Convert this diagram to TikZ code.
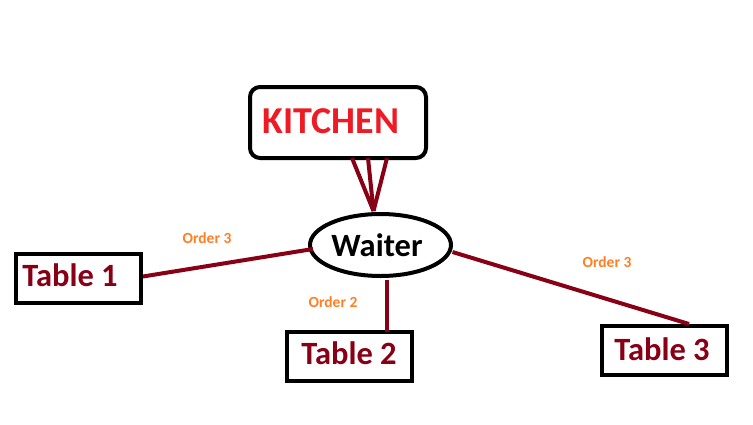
\documentclass[tikz,border=0pt]{standalone}
\usepackage{fontspec}
\setmainfont{Carlito}
\usetikzlibrary{shapes.geometric,calc}
\definecolor{kred}{HTML}{ED1C24}
\definecolor{dred}{HTML}{880015}
\definecolor{ora}{HTML}{FF7F27}
\begin{document}
\begin{tikzpicture}[x=1pt,y=-1pt,
  box/.style={draw=black,line width=4pt,inner sep=0pt},
  tbl/.style={box,minimum width=125pt,minimum height=49pt,text=dred,font=\fontsize{32.5}{33}\selectfont\bfseries},
  link/.style={draw=dred,line width=4pt},
  ord/.style={text=ora,font=\fontsize{15.5}{16}\selectfont\bfseries,inner sep=0pt}]
\useasboundingbox (0,0) rectangle (753,424);
\node[box,rounded corners=10pt,minimum width=176pt,minimum height=71pt,text=kred,
  font=\fontsize{38}{39}\selectfont\bfseries] (k) at (338,122.5) {\raisebox{3pt}{KITCHEN\kern14pt}};
\node[box,ellipse,minimum width=141pt,minimum height=62pt,font=\fontsize{32.5}{33}\selectfont\bfseries] (w) at (380.5,245) {Waiter\kern7pt};
\node[tbl] (t1) at (78.5,278.5) {\raisebox{7pt}{Table 1\kern17pt}};
\node[tbl] (t2) at (349,356) {\raisebox{6pt}{Table 2}};
\node[tbl] (t3) at (664,350.5) {\raisebox{2pt}{Table 3\kern4pt}};
\coordinate (wtop) at ($(w.north)+(-7,-1)$);
\draw[link] ($(k.south)+(14,-2)$) -- (wtop);
\draw[link] ($(k.south)+(30,-2)$) -- (wtop);
\draw[link] ($(k.south)+(49,-2)$) -- (wtop);
\draw[link] ($(t1.east)+(0,-2)$) -- ($(w.center)+(-67.5,4)$);
\draw[link] ($(w.south)+(6.5,2)$) -- ($(t2.north)+(38,2)$);
\draw[link] ($(w.center)+(72,7)$) -- ($(t3.north)+(25,0)$);
\node[ord] (o1) at (207,238) {Order 3};
\node[ord] (o2) at (333,302) {Order 2};
\node[ord] (o3) at (607,262) {Order 3};
\end{tikzpicture}
\end{document}
